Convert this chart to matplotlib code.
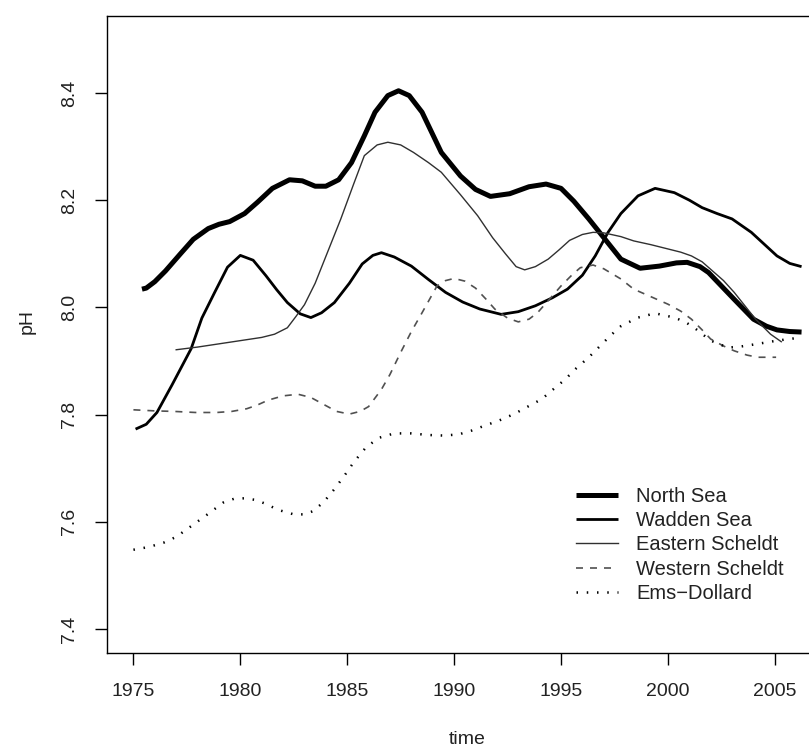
import numpy as np
import matplotlib
matplotlib.use("Agg")
import matplotlib.pyplot as plt

plt.rcParams['font.family'] = ['Liberation Sans', 'DejaVu Sans']

# ---- data ----
north_x = [1975.4, 1975.6, 1976.0, 1976.5, 1977.2, 1977.8, 1978.5, 1979.0, 1979.5, 1980.2, 1980.8, 1981.5,
           1982.3, 1982.9, 1983.5, 1984.0, 1984.6, 1985.2, 1985.8, 1986.3, 1986.9, 1987.4, 1987.9,
           1988.5, 1989.4, 1990.3, 1991.0, 1991.7, 1992.6, 1993.5, 1994.3, 1995.0, 1995.6,
           1996.3, 1996.9, 1997.8, 1998.7, 1999.6, 2000.4, 2000.9, 2001.5, 2001.9, 2002.5,
           2003.1, 2004.0, 2004.6, 2005.1, 2005.7, 2006.25]
north_y = [8.034, 8.036, 8.048, 8.068, 8.100, 8.127, 8.147, 8.155, 8.160, 8.175, 8.196, 8.222,
           8.238, 8.236, 8.226, 8.226, 8.238, 8.270, 8.320, 8.364, 8.395, 8.404, 8.395,
           8.364, 8.289, 8.245, 8.220, 8.207, 8.212, 8.225, 8.230, 8.222, 8.198,
           8.165, 8.135, 8.090, 8.073, 8.077, 8.083, 8.084, 8.076, 8.065, 8.040,
           8.015, 7.978, 7.965, 7.958, 7.955, 7.954]

wadden_x = [1975.1, 1975.6, 1976.1, 1976.8, 1977.7, 1978.2, 1978.8, 1979.4, 1980.0, 1980.6,
            1981.2, 1981.7, 1982.2, 1982.8, 1983.3, 1983.8, 1984.4, 1985.1, 1985.7, 1986.2,
            1986.6, 1987.2, 1988.0, 1988.8, 1989.6, 1990.4, 1991.2, 1992.2, 1993.0, 1993.8,
            1994.6, 1995.3, 1996.0, 1996.6, 1997.2, 1997.8, 1998.6, 1999.4, 2000.3, 2001.0,
            2001.6, 2002.3, 2003.0, 2003.9, 2004.5, 2005.1, 2005.7, 2006.25]
wadden_y = [7.773, 7.782, 7.804, 7.855, 7.923, 7.980, 8.028, 8.075, 8.097, 8.088,
            8.059, 8.033, 8.009, 7.988, 7.981, 7.990, 8.009, 8.045, 8.081, 8.097,
            8.102, 8.094, 8.077, 8.052, 8.028, 8.010, 7.997, 7.987, 7.992, 8.003,
            8.018, 8.034, 8.060, 8.096, 8.140, 8.175, 8.208, 8.222, 8.214, 8.200,
            8.186, 8.175, 8.165, 8.140, 8.118, 8.096, 8.082, 8.076]

eastern_x = [1977.0, 1978.0, 1979.0, 1980.0, 1981.0, 1981.6, 1982.2, 1982.6, 1983.0, 1983.5,
             1984.0, 1984.7, 1985.3, 1985.8, 1986.4, 1986.9, 1987.5, 1988.1, 1988.8, 1989.4,
             1990.3, 1991.1, 1991.8, 1992.4, 1992.9, 1993.3, 1993.8, 1994.4, 1994.9, 1995.4,
             1996.0, 1996.5, 1997.0, 1997.8, 1998.4, 1999.2, 2000.0, 2000.6, 2001.1, 2001.6,
             2002.0, 2002.6, 2003.1, 2003.6, 2004.1, 2004.8, 2005.3]
eastern_y = [7.921, 7.926, 7.932, 7.938, 7.944, 7.950, 7.962, 7.983, 8.005, 8.045,
             8.095, 8.165, 8.230, 8.283, 8.303, 8.308, 8.303, 8.289, 8.270, 8.252,
             8.210, 8.171, 8.130, 8.100, 8.076, 8.070, 8.076, 8.090, 8.107, 8.125,
             8.136, 8.140, 8.139, 8.132, 8.124, 8.117, 8.109, 8.103, 8.096, 8.085,
             8.071, 8.050, 8.028, 8.003, 7.978, 7.950, 7.936]

western_x = [1975.0, 1976.0, 1976.9, 1977.9, 1978.9, 1979.6, 1980.3, 1980.8, 1981.3, 1982.0,
             1982.7, 1983.3, 1983.9, 1984.5, 1985.1, 1985.6, 1986.0, 1986.6, 1987.0, 1987.5,
             1988.0, 1988.5, 1989.2, 1989.6, 1990.0, 1990.5, 1991.0, 1991.5, 1991.9, 1992.5,
             1993.0, 1993.5, 1993.9, 1994.5, 1995.0, 1995.5, 1995.9, 1996.5, 1997.0, 1997.8,
             1998.4, 1999.2, 2000.0, 2000.6, 2001.1, 2001.6, 2002.0, 2002.6, 2003.1, 2003.7,
             2004.2, 2005.06]
western_y = [7.809, 7.807, 7.806, 7.804, 7.804, 7.806, 7.811, 7.818, 7.827, 7.835,
             7.838, 7.832, 7.819, 7.806, 7.801, 7.806, 7.815, 7.847, 7.875, 7.916,
             7.955, 7.990, 8.040, 8.050, 8.054, 8.049, 8.036, 8.015, 7.997, 7.980,
             7.973, 7.978, 7.990, 8.017, 8.040, 8.060, 8.074, 8.079, 8.072, 8.053,
             8.034, 8.020, 8.006, 7.993, 7.978, 7.958, 7.941, 7.928, 7.919, 7.911,
             7.907, 7.907]

ems_x = [1975.0, 1975.7, 1976.4, 1977.0, 1977.7, 1978.5, 1979.2, 1979.7, 1980.2, 1980.7,
         1981.1, 1981.8, 1982.5, 1983.0, 1983.4, 1983.9, 1984.4, 1984.9, 1985.3, 1985.9,
         1986.5, 1987.2, 1988.0, 1988.8, 1989.5, 1990.2, 1990.8, 1991.4, 1992.1, 1992.8,
         1993.4, 1994.1, 1994.6, 1995.2, 1995.7, 1996.3, 1996.9, 1997.3, 1997.8, 1998.6,
         1999.4, 2000.3, 2000.8, 2001.2, 2002.0, 2002.8, 2003.4, 2003.9, 2005.1, 2006.25]
ems_y = [7.548, 7.553, 7.561, 7.572, 7.592, 7.615, 7.636, 7.643, 7.644, 7.641,
         7.635, 7.622, 7.614, 7.614, 7.620, 7.637, 7.661, 7.688, 7.711, 7.740,
         7.757, 7.765, 7.765, 7.762, 7.761, 7.763, 7.770, 7.779, 7.789, 7.801,
         7.814, 7.829, 7.846, 7.866, 7.886, 7.907, 7.931, 7.947, 7.965, 7.981,
         7.989, 7.981, 7.973, 7.963, 7.938, 7.925, 7.927, 7.930, 7.938, 7.944]

labels = ["North Sea", "Wadden Sea", "Eastern Scheldt", "Western Scheldt", "Ems\u2212Dollard"]
x_ticks = [1975, 1980, 1985, 1990, 1995, 2000, 2005]
y_ticks = [7.4, 7.6, 7.8, 8.0, 8.2, 8.4]
y_range = (7.4, 8.5)

# ---- figure ----
W, H = 809, 747
fig = plt.figure(figsize=(W / 100, H / 100), dpi=100)

all_x = north_x + wadden_x + eastern_x + western_x + ems_x
xmin, xmax = min(all_x), max(all_x)
xpad = 0.04 * (xmax - xmin)
ypad = 0.04 * (y_range[1] - y_range[0])

left_px, top_px, bottom_px = 106.7, 15.7, 652.7
px_per_year = 21.38
right_px = left_px + (xmax - xmin + 2 * xpad) * px_per_year
ax = fig.add_axes([left_px / W, 1 - bottom_px / H, (right_px - left_px) / W, (bottom_px - top_px) / H])

common = dict(solid_joinstyle='round', dash_joinstyle='round')
ax.plot(north_x, north_y, color='black', lw=3.6, solid_capstyle='butt', label=labels[0], **common)
ax.plot(wadden_x, wadden_y, color='black', lw=2.0, solid_capstyle='butt', label=labels[1], **common)
ax.plot(eastern_x, eastern_y, color='#303030', lw=1.0, label=labels[2], **common)
ax.plot(western_x, western_y, color='#505050', lw=1.2, dashes=(4.2, 4.2), label=labels[3], **common)
ax.plot(ems_x, ems_y, color='black', lw=1.8, dashes=(0.6, 3.5), label=labels[4], **common)

ax.set_xlim(xmin - xpad, xmax + xpad)
ax.set_ylim(y_range[0] - ypad, y_range[1] + ypad)
ax.set_xticks(x_ticks)
ax.set_xticklabels([str(v) for v in x_ticks])
ax.set_yticks(y_ticks)
ax.set_yticklabels([f"{v:.1f}" for v in y_ticks], rotation=90, va='center')

for s in ax.spines.values():
    s.set_linewidth(1.0)
ax.tick_params(axis='both', direction='out', length=8.5, width=1.0, labelsize=14,
               colors='black', labelcolor='#222222')
ax.tick_params(axis='x', pad=13)
ax.tick_params(axis='y', pad=12)

fig.text(27 / W, 1 - 322 / H, "pH", rotation=90, ha='center', va='center', fontsize=14, color='#222222')
fig.text(467 / W, 1 - 731 / H, "time", ha='center', va='top', fontsize=14, color='#222222')

leg = ax.legend(loc='upper left', bbox_to_anchor=(576 / W, 1 - 487 / H), bbox_transform=fig.transFigure,
                frameon=False, fontsize=14.5, handlelength=2.1, handletextpad=0.9,
                labelspacing=0.26, borderpad=0, borderaxespad=0)
for t in leg.get_texts():
    t.set_color('#222222')

fig.savefig("out.png", dpi=100)
